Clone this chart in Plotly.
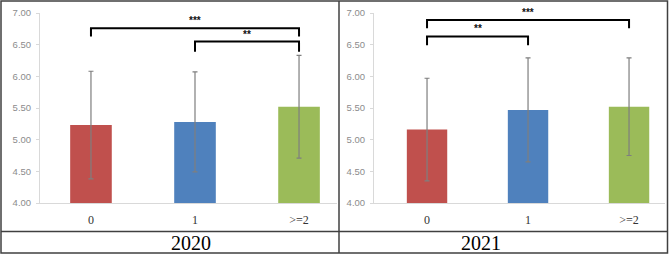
import plotly.graph_objects as go

categories = ["0", "1", ">=2"]
means_2020 = [5.23, 5.28, 5.52]
sd_2020 = [0.85, 0.79, 0.81]
means_2021 = [5.16, 5.47, 5.52]
sd_2021 = [0.81, 0.82, 0.77]
bar_colors = ["#C0504D", "#4F81BD", "#9BBB59"]
years = ["2020", "2021"]
y_ticks = [4.0, 4.5, 5.0, 5.5, 6.0, 6.5, 7.0]

# significance brackets: (from index, to index, bracket top, leg bottom, label)
brackets_2020 = [(0, 2, 6.76, 6.63, "***"), (1, 2, 6.55, 6.39, "**")]
brackets_2021 = [(0, 2, 6.89, 6.76, "***"), (0, 1, 6.63, 6.49, "**")]

W, H = 669, 254
xpos = list(range(len(categories)))

fig = go.Figure()

panels = [
    ("x", "y", means_2020, sd_2020, brackets_2020),
    ("x2", "y2", means_2021, sd_2021, brackets_2021),
]

for xa, ya, means, sds, brackets in panels:
    fig.add_trace(go.Bar(
        x=xpos, y=[m - 4.0 for m in means], base=4.0,
        marker=dict(color=bar_colors, line=dict(width=0)),
        width=0.40,
        error_y=dict(type="data", array=sds, color="#7F7F7F", thickness=1.2, width=2.5),
        xaxis=xa, yaxis=ya, showlegend=False, hoverinfo="skip",
    ))
    for i0, i1, top, bot, lab in brackets:
        fig.add_trace(go.Scatter(
            x=[xpos[i0], xpos[i0], xpos[i1], xpos[i1]],
            y=[bot, top, top, bot],
            mode="lines", line=dict(color="black", width=2),
            xaxis=xa, yaxis=ya, showlegend=False, hoverinfo="skip",
        ))
        fig.add_annotation(
            x=(xpos[i0] + xpos[i1]) / 2, y=top, xref=xa, yref=ya,
            text="<b>" + lab + "</b>", showarrow=False, yanchor="bottom", yshift=0,
            font=dict(family="Liberation Sans", size=10, color="#111111"),
        )

ydom = [(254 - 203) / H, (254 - 13) / H]
axis_common = dict(
    showgrid=False, zeroline=False, showline=True, linecolor="#D9D9D9", linewidth=1,
    automargin=False,
)
fig.update_layout(
    width=W, height=H,
    margin=dict(l=0, r=0, t=0, b=0, autoexpand=False),
    paper_bgcolor="white", plot_bgcolor="white",
    xaxis=dict(domain=[40 / W, 337 / W], range=[-0.49, 2.365],
               tickvals=xpos, ticktext=categories, ticks="", ticklabelstandoff=6,
               tickfont=dict(family="Liberation Serif", size=12, color="#333333"),
               anchor="y", **axis_common),
    yaxis=dict(domain=ydom, range=[4, 7], tickvals=y_ticks,
               ticktext=[f"{v:.2f}" for v in y_ticks], ticks="outside", ticklen=3,
               tickcolor="#D9D9D9", ticklabelstandoff=3,
               tickfont=dict(family="Liberation Sans", size=9.5, color="#8C8C8C"),
               anchor="x", **axis_common),
    xaxis2=dict(domain=[374 / W, 665 / W], range=[-0.525, 2.356],
                tickvals=xpos, ticktext=categories, ticks="", ticklabelstandoff=6,
                tickfont=dict(family="Liberation Serif", size=12, color="#333333"),
                anchor="y2", **axis_common),
    yaxis2=dict(domain=ydom, range=[4, 7], tickvals=y_ticks,
                ticktext=[f"{v:.2f}" for v in y_ticks], ticks="outside", ticklen=3,
                tickcolor="#D9D9D9", ticklabelstandoff=3,
                tickfont=dict(family="Liberation Sans", size=9.5, color="#8C8C8C"),
                anchor="x2", **axis_common),
)

# table frame
def px_x(v):
    return v / W

def px_y(v):
    return 1 - v / H

frame = dict(color="#404040", width=1.5)
fig.add_shape(type="rect", xref="paper", yref="paper",
              x0=px_x(1), x1=px_x(667.5), y0=px_y(253), y1=px_y(1), line=frame)
fig.add_shape(type="line", xref="paper", yref="paper",
              x0=px_x(339), x1=px_x(339), y0=px_y(253), y1=px_y(1), line=frame)
fig.add_shape(type="line", xref="paper", yref="paper",
              x0=px_x(1), x1=px_x(667.5), y0=px_y(231.5), y1=px_y(231.5), line=frame)

for cx, yr in zip([169, 503], years):
    fig.add_annotation(x=px_x(cx), y=px_y(243), xref="paper", yref="paper",
                       text=yr, showarrow=False, yanchor="middle",
                       font=dict(family="Liberation Serif", size=20, color="black"))

fig.write_html(
    "out.html",
    config={"displayModeBar": False, "staticPlot": True},
    post_script="document.body.style.margin='0';document.body.style.padding='0';"
                "document.body.style.overflow='hidden';",
)
